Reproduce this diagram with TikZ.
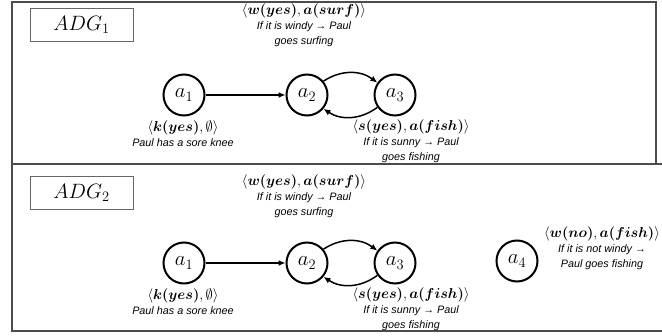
\documentclass[tikz,border=0pt]{standalone}
\usepackage{amsmath,amssymb,bm}
\usepackage{fontspec}
\setmainfont{Liberation Sans}
\usetikzlibrary{arrows.meta}
\newcommand{\mlab}[1]{{\fontsize{13.5}{15}\selectfont$#1$}}
\begin{document}
\begin{tikzpicture}[x=1pt,y=-1pt,
  argnode/.style={circle,draw,line width=2pt,minimum size=41pt,inner sep=0pt,font=\fontsize{21.5}{24}\selectfont},
  att/.style={line width=1.5pt,-{Latex[length=7pt,width=6pt]}},
  lbl/.style={align=center,inner sep=0pt,anchor=north,font=\fontsize{10.8}{15}\selectfont\itshape},
  titlebox/.style={draw=black!60,line width=0.8pt,minimum width=103pt,minimum height=33pt,inner sep=0pt,font=\fontsize{21}{24}\selectfont},
  frameline/.style={draw=black!70,line width=1.3pt}]
\useasboundingbox (0,0) rectangle (662,336);
% frame
\draw[frameline] (656,164) -- (656,2) -- (12,2) -- (12,331) -- (662,331);
\draw[frameline] (12,164) -- (662,164);
% ---------- panel 1
\node[titlebox] (t1) at (81.5,24.5) {$ADG_1$};
\node[argnode] (p1a1) at (184,95) {$a_1$};
\node[argnode] (p1a2) at (307,95) {$a_2$};
\node[argnode] (p1a3) at (395,95) {$a_3$};
\draw[att] (p1a1) -- (p1a2);
\draw[att] (p1a2.40) to[bend left=35] (p1a3.145);
\draw[att] (p1a3.-145) to[bend left=35] (p1a2.-40);
\node[lbl] (p1l2) at (304,4) {\mlab{\langle\bm{w(yes)},\bm{a(surf)}\rangle}\\If it is windy → Paul\\goes surfing};
\node[lbl] (p1l1) at (183,121) {\mlab{\langle\bm{k(yes)},\emptyset\rangle}\\Paul has a sore knee};
\node[lbl] (p1l3) at (411,120) {\mlab{\langle\bm{s(yes)},\bm{a(fish)}\rangle}\\If it is sunny → Paul\\goes fishing};
% ---------- panel 2
\node[titlebox] (t2) at (81.5,193) {$ADG_2$};
\node[argnode] (p2a1) at (184,263) {$a_1$};
\node[argnode] (p2a2) at (307,263) {$a_2$};
\node[argnode] (p2a3) at (395,263) {$a_3$};
\node[argnode] (p2a4) at (517,261) {$a_4$};
\draw[att] (p2a1) -- (p2a2);
\draw[att] (p2a2.40) to[bend left=35] (p2a3.145);
\draw[att] (p2a3.-145) to[bend left=35] (p2a2.-40);
\node[lbl] (p2l2) at (304,175) {\mlab{\langle\bm{w(yes)},\bm{a(surf)}\rangle}\\If it is windy → Paul\\goes surfing};
\node[lbl] (p2l1) at (183,289) {\mlab{\langle\bm{k(yes)},\emptyset\rangle}\\Paul has a sore knee};
\node[lbl] (p2l3) at (411,288) {\mlab{\langle\bm{s(yes)},\bm{a(fish)}\rangle}\\If it is sunny → Paul\\goes fishing};
\node[lbl] (p2l4) at (602,227) {\mlab{\langle\bm{w(no)},\bm{a(fish)}\rangle}\\If it is not windy →\\Paul goes fishing};
\end{tikzpicture}
\end{document}
